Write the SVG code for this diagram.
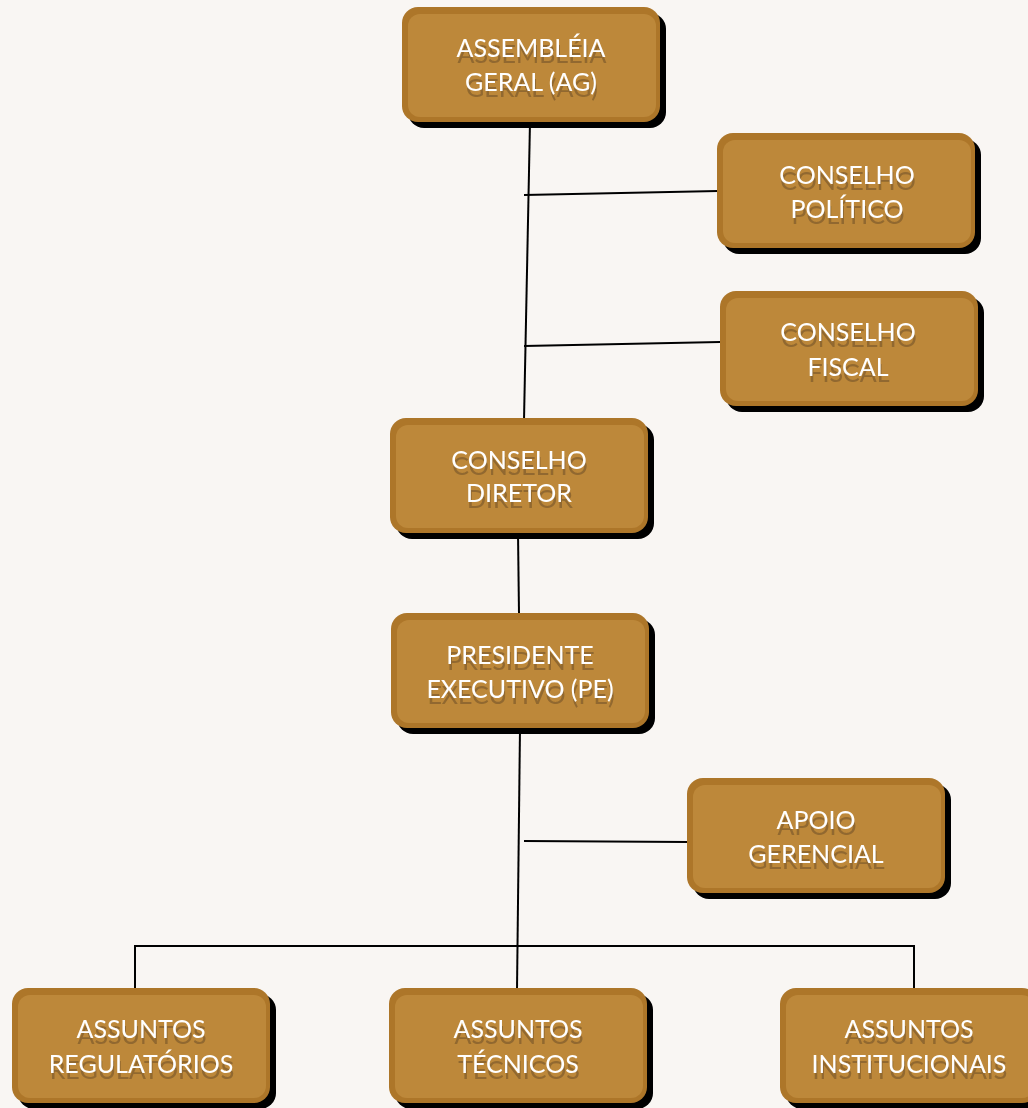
<svg xmlns="http://www.w3.org/2000/svg" width="1028" height="1108" viewBox="0 0 1028 1108">
<defs>
<style>
.sh{fill:#000}
.outer{fill:#ad7629}
.inner{fill:#bd883a}
.t{font-family:Lato,"Open Sans","Liberation Sans",sans-serif;font-size:25px;fill:#fff;text-anchor:middle;filter:url(#tsh)}
.c line{stroke:#000;stroke-width:2}
</style>
<filter id="tsh" x="-10%" y="-30%" width="120%" height="180%">
<feFlood flood-color="#5a4020" flood-opacity="0.45" result="f"/>
<feComposite in="f" in2="SourceAlpha" operator="in" result="s"/>
<feOffset in="s" dx="1" dy="6" result="o"/>
<feMerge><feMergeNode in="o"/><feMergeNode in="SourceGraphic"/></feMerge>
</filter>
</defs>
<rect width="1028" height="1108" fill="#f9f6f3"/>
<g class="c">
<line x1="530" y1="122" x2="524" y2="420"/>
<line x1="524" y1="195" x2="718" y2="191"/>
<line x1="524" y1="346" x2="720" y2="342"/>
<line x1="518" y1="533" x2="519" y2="614"/>
<line x1="520" y1="728" x2="517" y2="990"/>
<line x1="524" y1="841" x2="688" y2="842"/>
<line x1="134" y1="946" x2="915" y2="946"/>
<line x1="135" y1="945" x2="135" y2="988"/>
<line x1="914" y1="945" x2="914" y2="988"/>
</g>
<g id="ag">
<rect class="sh" x="408" y="13" width="258" height="115" rx="16"/>
<rect class="outer" x="402" y="7" width="258" height="115" rx="16"/>
<rect class="inner" x="408" y="14" width="248" height="103" rx="12"/>
<text class="t" x="531" y="57">ASSEMBLÉIA</text><text class="t" x="531" y="91">GERAL (AG)</text>
</g>
<g id="politico">
<rect class="sh" x="723" y="139" width="258" height="115" rx="16"/>
<rect class="outer" x="717" y="133" width="258" height="115" rx="16"/>
<rect class="inner" x="723" y="140" width="248" height="103" rx="12"/>
<text class="t" x="847" y="184">CONSELHO</text><text class="t" x="847" y="218">POLÍTICO</text>
</g>
<g id="fiscal">
<rect class="sh" x="726" y="297" width="258" height="115" rx="16"/>
<rect class="outer" x="720" y="291" width="258" height="115" rx="16"/>
<rect class="inner" x="726" y="298" width="248" height="103" rx="12"/>
<text class="t" x="848" y="341">CONSELHO</text><text class="t" x="848" y="376">FISCAL</text>
</g>
<g id="diretor">
<rect class="sh" x="396" y="424" width="258" height="115" rx="16"/>
<rect class="outer" x="390" y="418" width="258" height="115" rx="16"/>
<rect class="inner" x="396" y="425" width="248" height="103" rx="12"/>
<text class="t" x="519" y="469">CONSELHO</text><text class="t" x="519" y="502">DIRETOR</text>
</g>
<g id="presidente">
<rect class="sh" x="397" y="619" width="258" height="115" rx="16"/>
<rect class="outer" x="391" y="613" width="258" height="115" rx="16"/>
<rect class="inner" x="397" y="620" width="248" height="103" rx="12"/>
<text class="t" x="520" y="664">PRESIDENTE</text><text class="t" x="520" y="698">EXECUTIVO (PE)</text>
</g>
<g id="apoio">
<rect class="sh" x="693" y="784" width="258" height="115" rx="16"/>
<rect class="outer" x="687" y="778" width="258" height="115" rx="16"/>
<rect class="inner" x="693" y="785" width="248" height="103" rx="12"/>
<text class="t" x="816" y="829">APOIO</text><text class="t" x="816" y="863">GERENCIAL</text>
</g>
<g id="regulatorios">
<rect class="sh" x="18" y="994" width="258" height="115" rx="16"/>
<rect class="outer" x="12" y="988" width="258" height="115" rx="16"/>
<rect class="inner" x="18" y="995" width="248" height="103" rx="12"/>
<text class="t" x="141" y="1038">ASSUNTOS</text><text class="t" x="141" y="1073">REGULATÓRIOS</text>
</g>
<g id="tecnicos">
<rect class="sh" x="395" y="994" width="258" height="115" rx="16"/>
<rect class="outer" x="389" y="988" width="258" height="115" rx="16"/>
<rect class="inner" x="395" y="995" width="248" height="103" rx="12"/>
<text class="t" x="518" y="1038">ASSUNTOS</text><text class="t" x="518" y="1073">TÉCNICOS</text>
</g>
<g id="institucionais">
<rect class="sh" x="786" y="994" width="258" height="115" rx="16"/>
<rect class="outer" x="780" y="988" width="258" height="115" rx="16"/>
<rect class="inner" x="786" y="995" width="248" height="103" rx="12"/>
<text class="t" x="909" y="1038">ASSUNTOS</text><text class="t" x="909" y="1073">INSTITUCIONAIS</text>
</g>
</svg>
